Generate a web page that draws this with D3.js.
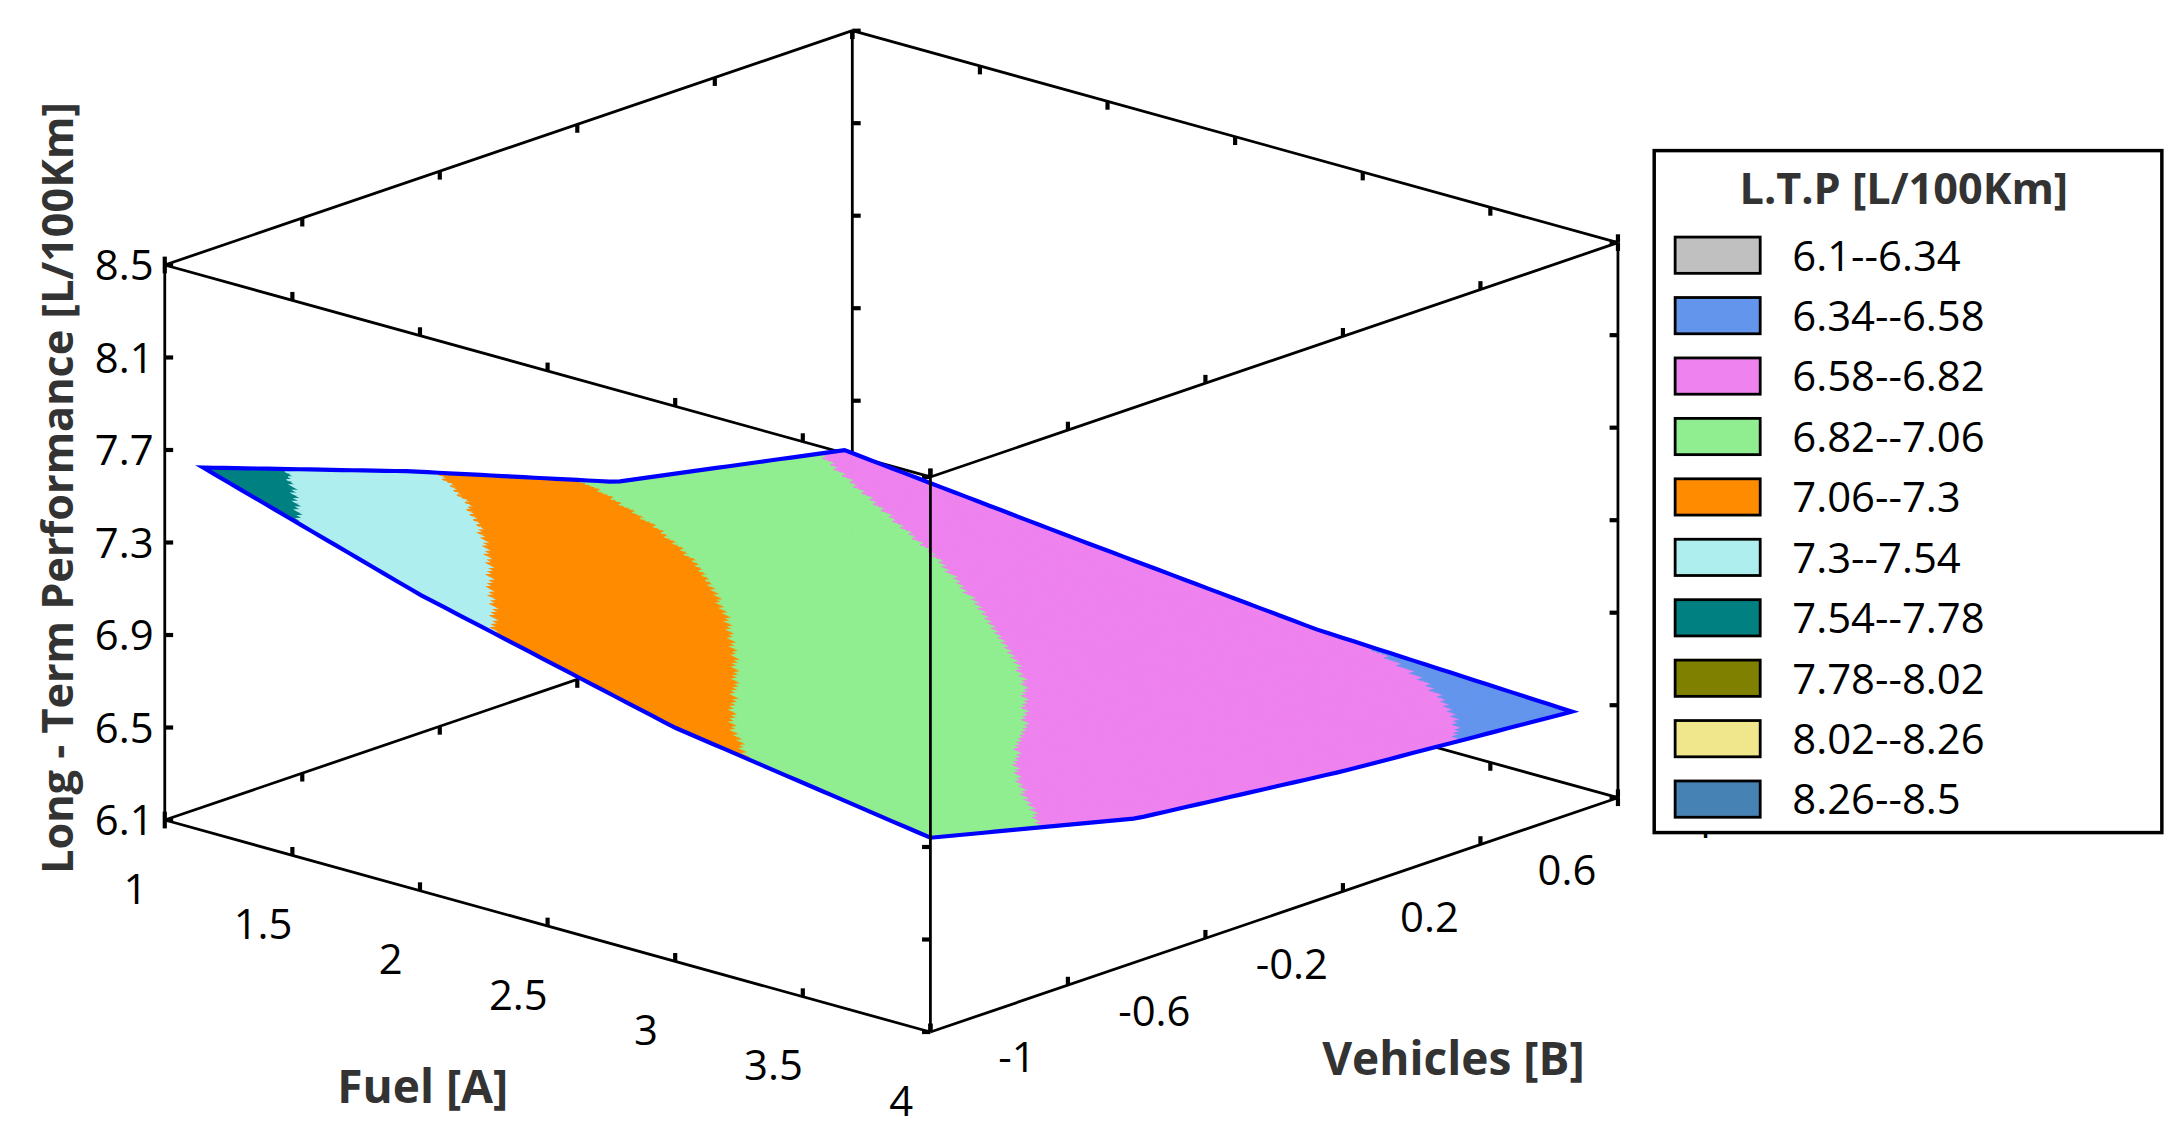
<!DOCTYPE html>
<html>
<head>
<meta charset="utf-8">
<script src="https://cdn.jsdelivr.net/npm/d3@7"></script>
<style>
  body { margin: 0; background: #fff; }
  svg { display: block; }
</style>
</head>
<body>
<svg id="chart" width="2176" height="1138" viewBox="0 0 1560 816"></svg>
<script>
'use strict';

// Data
const fuelTicks = [1, 1.5, 2, 2.5, 3, 3.5, 4];
const vehicleTicks = [-1, -0.6, -0.2, 0.2, 0.6, 1];
const ltpTicks = [6.1, 6.5, 6.9, 7.3, 7.7, 8.1, 8.5];
const gridFuel = [1.15, 2, 3, 4];
const gridVehicles = [-1, -0.4, 0.2, 0.866];
// rows = vehicles, columns = fuel
const gridLtp = [
  [7.67, 7.38, 7.11, 6.94],
  [7.35, 7.15, 6.93, 6.72],
  [7.00, 6.91, 6.77, 6.62],
  [6.80, 6.70, 6.59, 6.54]
];
const bandLabels = ["6.1--6.34", "6.34--6.58", "6.58--6.82", "6.82--7.06", "7.06--7.3",
  "7.3--7.54", "7.54--7.78", "7.78--8.02", "8.02--8.26", "8.26--8.5"];
const bandBreaks = [6.1, 6.34, 6.58, 6.82, 7.06, 7.3, 7.54, 7.78, 8.02, 8.26, 8.5];
const bandColors = ["#c0c0c0", "#6495ed", "#ee82ee", "#90ee90", "#ff8c00",
  "#afeeee", "#008080", "#808000", "#f0e68c", "#4682b4"];

const svg = d3.select("#chart");
const font = "'Open Sans', 'DejaVu Sans', sans-serif";

// oblique projection built from linear scales
const origin = [118, 588];
const axA = {x: d3.scaleLinear().domain([1, 4]).range([0, 549]), y: d3.scaleLinear().domain([1, 4]).range([0, 152])};
const axB = {x: d3.scaleLinear().domain([-1, 1]).range([0, 493]), y: d3.scaleLinear().domain([-1, 1]).range([0, -168])};
const axZ = d3.scaleLinear().domain([6.1, 8.5]).range([0, -398]);
const proj = (a, b, z) => [origin[0] + axA.x(a) + axB.x(b), origin[1] + axA.y(a) + axB.y(b) + axZ(z)];

const band = d3.scaleThreshold().domain(bandBreaks.slice(1, -1)).range(bandColors);

// bilinear lookup in the grid
function ltpAt(a, b) {
  const i = Math.min(gridFuel.length - 2, Math.max(0, d3.bisectRight(gridFuel, a) - 1));
  const j = Math.min(gridVehicles.length - 2, Math.max(0, d3.bisectRight(gridVehicles, b) - 1));
  const u = (a - gridFuel[i]) / (gridFuel[i + 1] - gridFuel[i]);
  const v = (b - gridVehicles[j]) / (gridVehicles[j + 1] - gridVehicles[j]);
  return (1 - u) * (1 - v) * gridLtp[j][i] + u * (1 - v) * gridLtp[j][i + 1]
    + (1 - u) * v * gridLtp[j + 1][i] + u * v * gridLtp[j + 1][i + 1];
}

const line = d3.line();
const lw = 2;

// box edges (all except the front vertical one)
const back = [
  [[1, -1, 6.1], [1, 1, 6.1]], [[1, 1, 6.1], [4, 1, 6.1]], [[1, 1, 6.1], [1, 1, 8.5]],
  [[1, -1, 6.1], [4, -1, 6.1]], [[4, -1, 6.1], [4, 1, 6.1]],
  [[1, -1, 6.1], [1, -1, 8.5]], [[4, 1, 6.1], [4, 1, 8.5]],
  [[1, -1, 8.5], [1, 1, 8.5]], [[1, 1, 8.5], [4, 1, 8.5]],
  [[1, -1, 8.5], [4, -1, 8.5]], [[4, -1, 8.5], [4, 1, 8.5]]
];
const box = svg.append("g").attr("stroke", "#000").attr("stroke-width", lw).attr("fill", "none");
back.forEach(e => box.append("path").attr("d", line(e.map(p => proj(...p)))));

// tick marks on box edges
const tk = svg.append("g").attr("stroke", "#000").attr("stroke-width", 3);
const tickSeg = (p, dx, dy) => tk.append("line").attr("x1", p[0]).attr("y1", p[1]).attr("x2", p[0] + dx).attr("y2", p[1] + dy);
ltpTicks.forEach(z => {
  tickSeg(proj(1, -1, z), 6, 0);
  tickSeg(proj(1, 1, z), 6, 0);
  tickSeg(proj(4, 1, z), -6, 0);
  tickSeg(proj(4, -1, z), -6, 0);
});
fuelTicks.forEach(a => {
  [6.1, 8.5].forEach(z => { tickSeg(proj(a, -1, z), 0, -6); tickSeg(proj(a, 1, z), 0, 6); });
});
vehicleTicks.forEach(b => {
  [6.1, 8.5].forEach(z => { tickSeg(proj(1, b, z), 0, 6); tickSeg(proj(4, b, z), 0, -6); });
});

// surface
const nA = 150, nB = 100;
const a0 = gridFuel[0], a1 = gridFuel[gridFuel.length - 1];
const b0 = gridVehicles[0], b1 = gridVehicles[gridVehicles.length - 1];
const cells = [];
for (let i = 0; i < nA; i++) {
  for (let j = 0; j < nB; j++) {
    const aa = a0 + (a1 - a0) * i / nA, ab = a0 + (a1 - a0) * (i + 1) / nA;
    const ba = b0 + (b1 - b0) * j / nB, bb = b0 + (b1 - b0) * (j + 1) / nB;
    cells.push({
      pts: [[aa, ba], [ab, ba], [ab, bb], [aa, bb]].map(p => proj(p[0], p[1], ltpAt(p[0], p[1]))),
      z: ltpAt((aa + ab) / 2, (ba + bb) / 2)
    });
  }
}
svg.append("g").selectAll("path").data(cells).enter().append("path")
  .attr("d", d => line(d.pts) + "Z")
  .attr("fill", d => band(d.z))
  .attr("stroke", d => band(d.z))
  .attr("stroke-width", 0.8);

// surface outline
const edge = [];
const steps = 60;
for (let k = 0; k <= steps; k++) { const a = a0 + (a1 - a0) * k / steps; edge.push([a, b0]); }
for (let k = 1; k <= steps; k++) { const b = b0 + (b1 - b0) * k / steps; edge.push([a1, b]); }
for (let k = 1; k <= steps; k++) { const a = a1 - (a1 - a0) * k / steps; edge.push([a, b1]); }
for (let k = 1; k < steps; k++) { const b = b1 - (b1 - b0) * k / steps; edge.push([a0, b]); }
svg.append("path")
  .attr("d", line(edge.map(p => proj(p[0], p[1], ltpAt(p[0], p[1])))) + "Z")
  .attr("fill", "none").attr("stroke", "#0000ff").attr("stroke-width", 3);

// front vertical edge drawn over surface
svg.append("path").attr("d", line([proj(4, -1, 6.1), proj(4, -1, 8.5)]))
  .attr("stroke", "#000").attr("stroke-width", lw);

// tick labels
const lbl = svg.append("g").attr("font-family", font).attr("font-size", 30).attr("fill", "#000");
ltpTicks.forEach(z => {
  const p = proj(1, -1, z);
  lbl.append("text").attr("x", p[0] - 8).attr("y", p[1] + 11).attr("text-anchor", "end").text(z);
});
fuelTicks.forEach(a => {
  const p = proj(a, -1, 6.1);
  lbl.append("text").attr("x", p[0] - 21).attr("y", p[1] + 60).attr("text-anchor", "middle").text(a);
});
vehicleTicks.forEach(b => {
  const p = proj(4, b, 6.1);
  lbl.append("text").attr("x", p[0] + 62).attr("y", p[1] + 29).attr("text-anchor", "middle").text(b);
});

// axis titles
const ttl = svg.append("g").attr("font-family", font).attr("font-size", 33).attr("font-weight", "bold").attr("fill", "#333");
ttl.append("text").attr("x", 303).attr("y", 791).attr("text-anchor", "middle").text("Fuel [A]");
ttl.append("text").attr("x", 1042).attr("y", 771).attr("text-anchor", "middle").text("Vehicles [B]");
ttl.append("text").attr("transform", "translate(52,350) rotate(-90)").attr("text-anchor", "middle")
  .attr("font-size", 31).text("Long - Term Performance [L/100Km]");

// legend
const leg = svg.append("g").attr("font-family", font);
leg.append("rect").attr("x", 1186).attr("y", 108).attr("width", 364).attr("height", 489)
  .attr("fill", "#fff").attr("stroke", "#000").attr("stroke-width", 2.5);
leg.append("text").attr("x", 1365).attr("y", 146).attr("text-anchor", "middle")
  .attr("font-size", 31).attr("font-weight", "bold").attr("fill", "#333").text("L.T.P [L/100Km]");
const rowY = d3.scaleLinear().domain([0, 9]).range([183, 573]);
const items = leg.selectAll("g.item").data(bandLabels).enter().append("g").attr("class", "item");
items.append("rect").attr("x", 1201).attr("y", (d, i) => rowY(i) - 13).attr("width", 61).attr("height", 26)
  .attr("fill", (d, i) => bandColors[i]).attr("stroke", "#000").attr("stroke-width", 2);
items.append("text").attr("x", 1285).attr("y", (d, i) => rowY(i) + 11).attr("font-size", 30).text(d => d);
</script>
</body>
</html>
